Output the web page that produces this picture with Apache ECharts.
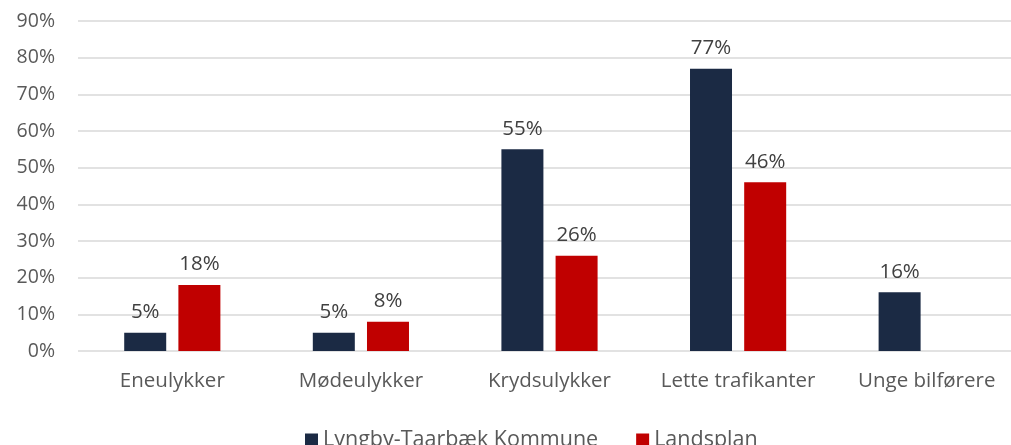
<!DOCTYPE html>
<html>
<head>
<meta charset="utf-8">
<script src="https://cdn.jsdelivr.net/npm/echarts@6/dist/echarts.min.js"></script>
<style>
  html, body { margin: 0; padding: 0; background: #fff; overflow: hidden; }
  #chart { width: 1030px; height: 445px; }
</style>
</head>
<body>
<div id="chart"></div>
<script>
const categories = ["Eneulykker", "Mødeulykker", "Krydsulykker", "Lette trafikanter", "Unge bilførere"]
const lyngbyValues = [5, 5, 55, 77, 16]
const landsplanValues = [18, 8, 26, 46, null]
const seriesNames = ["Lyngby-Taarbæk Kommune", "Landsplan"]

const font = "'Open Sans', 'DejaVu Sans', sans-serif"
const chart = echarts.init(document.getElementById("chart"))

const label = {
  show: true,
  position: "top",
  distance: 10,
  formatter: "{c}%",
  color: "#404040",
  fontSize: 20.5,
  fontFamily: font,
}

chart.setOption({
  animation: false,
  grid: {
    left: 78,
    top: 21,
    width: 943,
    height: 330,
  },
  legend: {
    left: 300,
    top: 424,
    itemWidth: 13,
    itemHeight: 13,
    itemGap: 38,
    icon: "rect",
    textStyle: { color: "#595959", fontSize: 21.5, fontFamily: font },
    data: seriesNames,
  },
  xAxis: {
    type: "category",
    data: categories,
    axisLine: { show: false },
    axisTick: { show: false },
    axisLabel: { interval: 0, color: "#595959", fontSize: 20.5, fontFamily: font, margin: 20 },
  },
  yAxis: {
    type: "value",
    min: 0,
    max: 90,
    interval: 10,
    axisLabel: {
      formatter: "{value}%",
      color: "#595959",
      fontSize: 19.5,
      fontFamily: font,
      margin: 23,
    },
    splitLine: { lineStyle: { color: "#d9d9d9", width: 1.5 } },
  },
  series: [
    {
      name: seriesNames[0],
      type: "bar",
      data: lyngbyValues,
      barWidth: 42,
      barGap: "29%",
      itemStyle: { color: "#1b2a44" },
      label: label,
    },
    {
      name: seriesNames[1],
      type: "bar",
      data: landsplanValues,
      barWidth: 42,
      itemStyle: { color: "#c00000" },
      label: label,
    },
  ],
})
</script>
</body>
</html>
